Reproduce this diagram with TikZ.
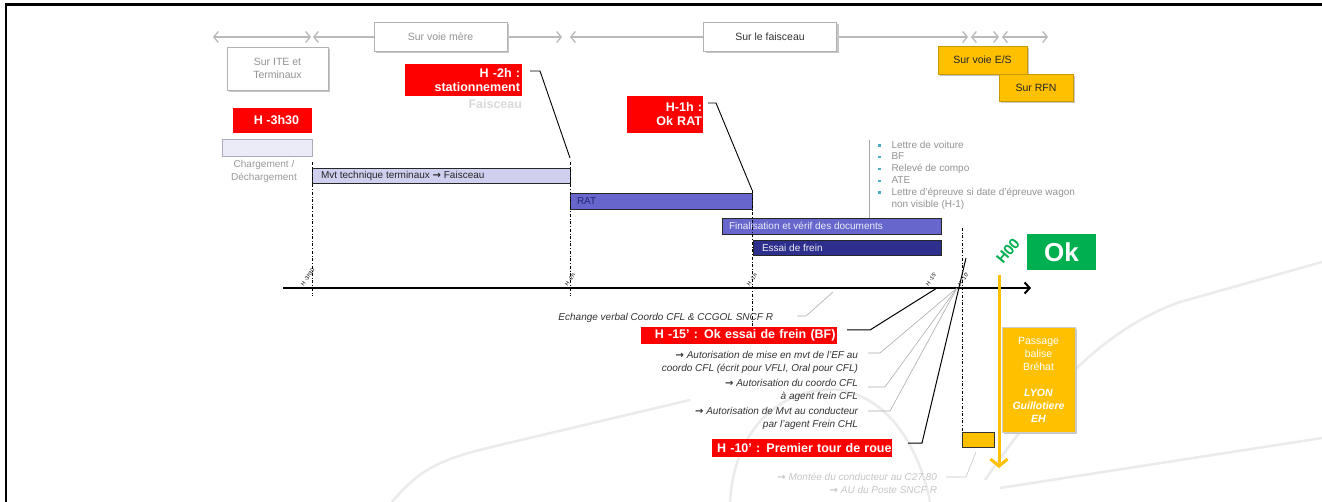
\documentclass[tikz,border=0pt]{standalone}
\usepackage{fontspec}
\setmainfont{Liberation Sans}
\newfontfamily\dejavu{DejaVu Sans}
\usetikzlibrary{arrows.meta,shadows}
\definecolor{redc}{HTML}{FF0000}
\definecolor{yel}{HTML}{FFC000}
\definecolor{ybord}{HTML}{C99A00}
\definecolor{grn}{HTML}{00B050}
\definecolor{lav}{HTML}{CFCFF0}
\definecolor{lavlight}{HTML}{EBEBF8}
\definecolor{mid}{HTML}{6666CC}
\definecolor{navy}{HTML}{2E2E8C}
\definecolor{teal}{HTML}{4BACC6}
\definecolor{bgc}{HTML}{EBEBEB}
\newcommand{\bul}{{\color{teal}\rule[1.5pt]{2.5pt}{2.5pt}}}
\newcommand{\harr}{{\dejavu\bfseries →}}
\newcommand{\bi}[1]{\textbf{\textit{#1}}}
\begin{document}
\begin{tikzpicture}[x=1pt,y=-1pt,
  every node/.style={inner sep=0pt, outer sep=0pt},
  topbox/.style={draw=gray!60, fill=white, line width=0.8pt,
    drop shadow={shadow xshift=2pt,shadow yshift=-2pt,fill=black!22,opacity=1},
    font=\fontsize{10.5}{13}\selectfont, align=center},
  ybox/.style={draw=ybord, fill=yel, line width=0.6pt,
    drop shadow={shadow xshift=2pt,shadow yshift=-2pt,fill=black!22,opacity=1},
    text=black!85, font=\fontsize{10.5}{13}\selectfont, align=center},
  redbox/.style={fill=redc, text=white, font=\bfseries\fontsize{12.5}{14}\selectfont},
  bar/.style={draw=black!85, line width=0.9pt},
  barlab/.style={anchor=west, font=\fontsize{10}{12}\selectfont},
  dd/.style={dash dot, line width=0.6pt},
  tick/.style={font=\fontsize{5.5}{6}\selectfont, rotate=55, anchor=west},
  lab/.style={font=\itshape\fontsize{10}{13}\selectfont, text=black!80, align=right, anchor=east},
  gcon/.style={draw=gray!65, line width=0.6pt},
  bcon/.style={draw=black, line width=1pt},
  garr/.style={draw=gray!55, line width=1.3pt,
    {Straight Barb[length=4.5pt,width=11pt]}-{Straight Barb[length=4.5pt,width=11pt]}},
]
\useasboundingbox (0,0) rectangle (1322,502);
\fill[white] (0,0) rectangle (1322,502);

% faint background tracks
\begin{scope}[draw=bgc, line width=2.5pt]
\draw (392,502) .. controls (422,466) and (445,458) .. (500,445) -- (690,400);
\draw (730,502) .. controls (735,420) and (790,385) .. (840,390) .. controls (890,398) and (920,450) .. (930,502);
\draw (985,480) .. controls (1040,400) and (1100,330) .. (1180,302) -- (1322,262);
\draw (1000,488) -- (1322,438);
\end{scope}

% frame
\draw[line width=2.5pt] (6,502) -- (6,4.5) -- (1322,4.5);

% top arrows
\coordinate (a1) at (213,37); \coordinate (a2) at (311,37);
\coordinate (a3) at (313,37); \coordinate (a4) at (562,37);
\coordinate (a5) at (570,37); \coordinate (a6) at (968,37);
\coordinate (a7) at (971,37); \coordinate (a8) at (999,37);
\coordinate (a9) at (1002,37); \coordinate (a10) at (1048,37);
\draw[garr] (a1) -- (a2);
\draw[garr] (a3) -- (a4);
\draw[garr] (a5) -- (a6);
\draw[garr] (a7) -- (a8);
\draw[garr] (a9) -- (a10);

% top boxes
\node[topbox, text=gray!85, minimum width=101pt, minimum height=43pt] (ite) at (277.5,68.5) {Sur ITE et\\Terminaux};
\node[topbox, text=gray!85, minimum width=133pt, minimum height=29pt] (vm) at (440.5,37) {Sur voie mère};
\node[topbox, text=black!80, minimum width=133pt, minimum height=29pt] (fx) at (770,37) {Sur le faisceau};
\node[ybox, minimum width=89pt, minimum height=28pt] (es) at (982.5,60) {Sur voie E/S};
\node[ybox, minimum width=74pt, minimum height=27pt] (rfn) at (1036,87.5) {Sur RFN};

% red milestones top
\node[redbox, minimum height=32pt, text width=113pt, inner xsep=2pt, align=right] (h2h) at (463.5,80) {H -2h :\\stationnement};
\node[anchor=east, text=gray!30, font=\bfseries\fontsize{12.5}{14}\selectfont] (h2hb) at (522,104) {Faisceau};
\node[redbox, minimum width=79pt, minimum height=25pt] (h3h) at (272.5,120.5) {\hspace{8pt}H -3h30};
\node[redbox, minimum height=37pt, text width=74pt, inner xsep=1pt, align=right] (h1h) at (665,114.5) {H-1h :\\Ok RAT};

% bars
\node[draw=gray!45!lav, fill=lavlight, line width=0.8pt, minimum width=90pt, minimum height=17pt] (charg) at (267,147.5) {};
\node[text=gray!80, font=\fontsize{10}{13}\selectfont, align=center] (chargt) at (264,171.5) {Chargement /\\Déchargement};
\node[bar, fill=lav, minimum width=258pt, minimum height=15pt] (mvt) at (441,175.5) {};
\node[barlab, text=black!85] (mvtt) at (321,176) {Mvt technique terminaux \harr{} Faisceau};
\node[bar, fill=mid, minimum width=182pt, minimum height=16pt] (rat) at (661,201) {};
\node[barlab, text=navy!80!black] (ratt) at (577,201) {RAT};
\node[bar, fill=mid, minimum width=219pt, minimum height=16pt] (fin) at (831.5,226) {};
\node[barlab, text=white!88!mid] (fint) at (729,226) {Finalisation et vérif des documents};
\node[bar, fill=navy, minimum width=188pt, minimum height=15pt] (ess) at (847,247.5) {};
\node[barlab, text=white!92!navy] (esst) at (762,247.5) {Essai de frein};

% dash-dot verticals
\draw[dd] (312,162) -- (312,296);
\draw[dd] (570,162) -- (570,296);
\draw[dd] (752,190) -- (752,345);
\draw[dd] (962,228) -- (962,432);

% connectors from top milestones
\coordinate (c2a) at (530,71); \coordinate (c2b) at (540,71); \coordinate (c2c) at (570,158);
\draw[bcon, line width=0.9pt] (c2a) -- (c2b) -- (c2c);
\coordinate (c1a) at (708,103); \coordinate (c1b) at (716,103); \coordinate (c1c) at (752,190);
\draw[bcon, line width=0.9pt] (c1a) -- (c1b) -- (c1c);

% document list
\coordinate (l1) at (869,140); \coordinate (l2) at (869,218);
\draw[draw=gray!70, line width=0.8pt] (l1) -- (l2);
\node[anchor=north west, text=gray!85, font=\fontsize{10}{12}\selectfont] (docs) at (878,140)
  {\renewcommand{\arraystretch}{0.98}\begin{tabular}{@{}l@{\hspace{11pt}}l@{}}
  \bul & Lettre de voiture\\
  \bul & BF\\
  \bul & Relevé de compo\\
  \bul & ATE\\
  \bul & Lettre d'épreuve si date d'épreuve wagon\\
       & non visible (H-1)
  \end{tabular}};

% axis
\coordinate (ax0) at (283,288); \coordinate (ax1) at (1031,288);
\draw[line width=2pt, -{Straight Barb[length=5pt,width=11pt]}] (ax0) -- (ax1);
\node[tick] (t1) at (302,285) {H -3h30};
\node[tick] (t2) at (566,285) {H -2h};
\node[tick] (t3) at (748,285) {H -1h};
\node[tick] (t4) at (927,285) {H -15'};
\node[tick] (t5) at (959,285) {H -10'};

% H00 and Ok
\node[rotate=50, text=grn, font=\bfseries\fontsize{15}{16}\selectfont] (h00) at (1008,251) {H00};
\node[fill=grn, text=white, font=\bfseries\fontsize{26}{28}\selectfont, minimum width=69pt, minimum height=36pt] (ok) at (1061.5,252) {Ok};

% yellow arrow and boxes
\coordinate (y1) at (999,275); \coordinate (y2) at (999,468);
\draw[draw=yel, line width=3pt, -{Straight Barb[length=7pt,width=17pt]}] (y1) -- (y2);
\node[ybox, text=white, draw=gray!40, minimum width=73pt, minimum height=105pt] (pass) at (1038.5,379.5)
  {Passage\\balise\\Bréhat\\[13pt]\bi{LYON}\\\bi{Guillotiere}\\\bi{EH}};
\node[draw=black!80, fill=yel, line width=0.9pt, minimum width=32pt, minimum height=15pt] (sy) at (978,439.5) {};

% lower labels
\coordinate (hub) at (957,288);
\node[lab] (ech) at (773,318) {Echange verbal Coordo CFL \& CCGOL SNCF R};
\node[redbox, minimum height=17pt, text width=193pt, inner xsep=1.5pt, align=right] (h15) at (739,335.5) {H -15' : Ok essai de frein (BF)};
\node[lab] (aut1) at (858,362) {\harr{} Autorisation de mise en mvt de l'EF au\\coordo CFL (écrit pour VFLI, Oral pour CFL)};
\node[lab] (aut2) at (858,390.5) {\harr{} Autorisation du coordo CFL\\à agent frein CFL};
\node[lab] (aut3) at (858,418.5) {\harr{} Autorisation de Mvt au conducteur\\par l'agent Frein CHL};
\node[redbox, minimum height=18pt, text width=179pt, inner xsep=0.5pt, align=right] (h10) at (802,448) {H -10' : Premier tour de roue};
\node[lab, text=gray!45] (mont) at (937,483.5) {\harr{} Montée du conducteur au C27.80\\\harr{} AU du Poste SNCF R};

% lower connectors
\coordinate (e1) at (797,316); \coordinate (e2) at (806,316); \coordinate (e3) at (833,292);
\draw[gcon] (e1) -- (e2) -- (e3);
\coordinate (b1) at (847,330); \coordinate (b2) at (870,330); \coordinate (b3) at (937,288);
\draw[bcon] (b1) -- (b2) -- (b3);
\coordinate (g1a) at (868,353); \coordinate (g1b) at (880,353);
\draw[gcon] (g1a) -- (g1b) -- (hub);
\coordinate (g2a) at (868,387); \coordinate (g2b) at (885,387);
\draw[gcon] (g2a) -- (g2b) -- (hub);
\coordinate (g3a) at (868,411); \coordinate (g3b) at (890,411);
\draw[gcon] (g3a) -- (g3b) -- (hub);
\coordinate (k1) at (908,443); \coordinate (k2) at (922,443); \coordinate (k3) at (966,258);
\draw[bcon] (k1) -- (k2) -- (k3);
\coordinate (m1) at (946,477); \coordinate (m2) at (966,477); \coordinate (m3) at (976,452);
\draw[gcon, draw=gray!45] (m1) -- (m2) -- (m3);
\end{tikzpicture}
\end{document}
